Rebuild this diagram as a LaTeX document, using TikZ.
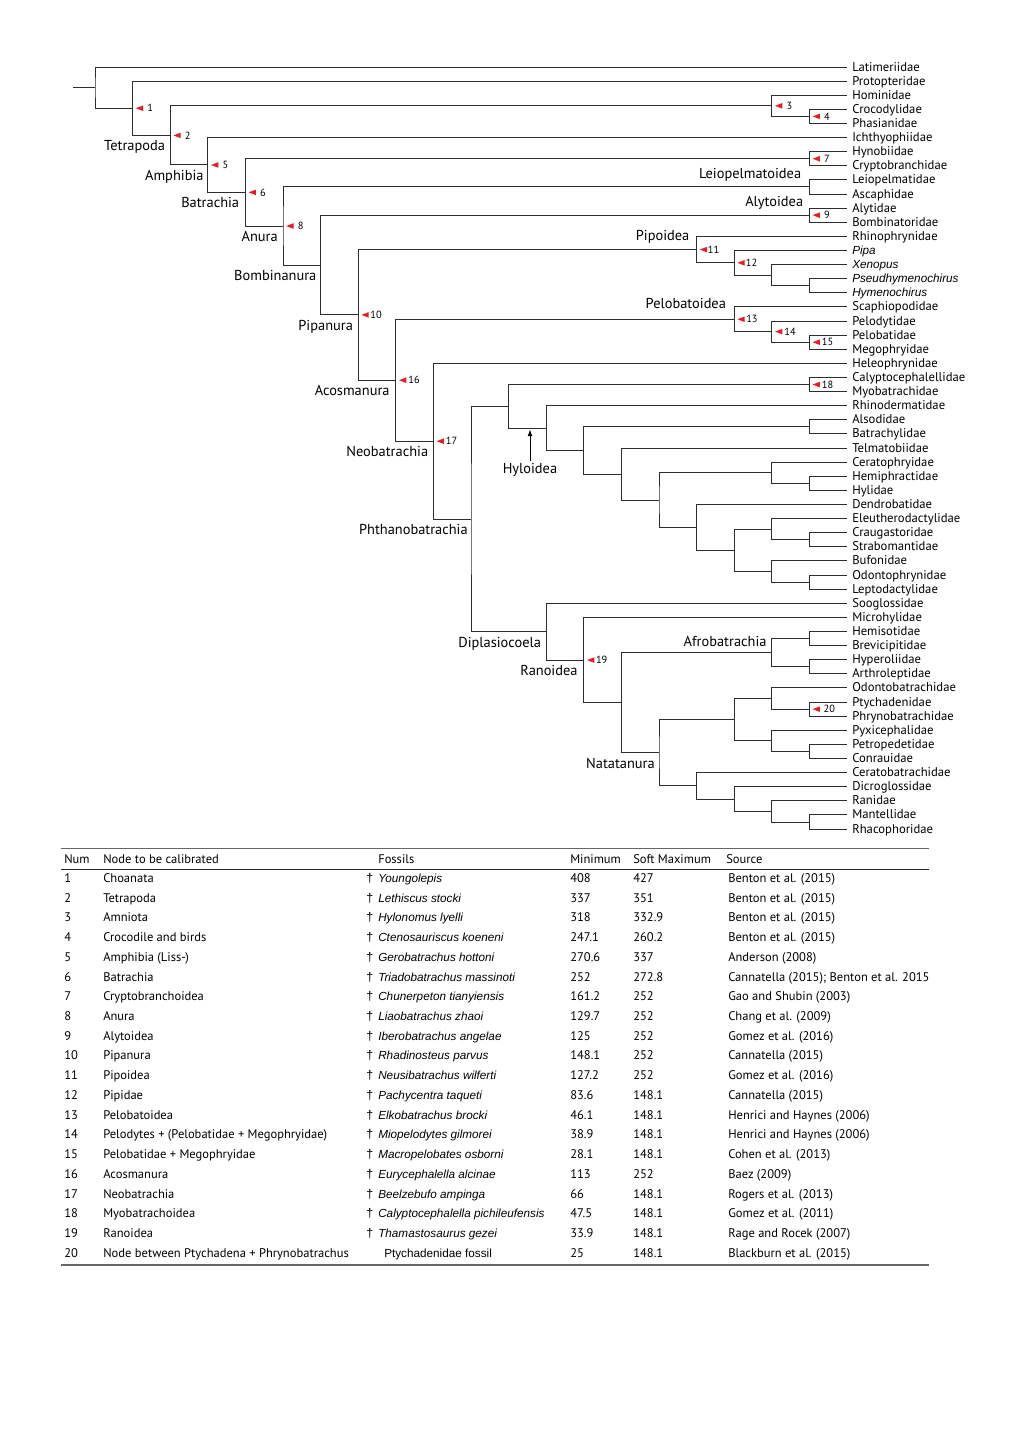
\documentclass[tikz,border=0pt]{standalone}
\usepackage{fontspec}
\setmainfont{PT Sans}
\newfontfamily\arialf{Liberation Sans}
\usetikzlibrary{calc,arrows.meta}
\definecolor{markred}{RGB}{232,28,36}
\definecolor{branchc}{RGB}{45,45,45}
\newcommand\tabfont{\fontsize{9.4}{10}\selectfont}
\newcommand\leaf[3]{%
  \coordinate (t#1) at (847,{67+14.113*(#1-1)});
  \node[#2] (lab#1) at ($(t#1)+(5,4)$) {#3};}
\newcommand\cladenode[4]{%
  \coordinate (tmp#1) at ($(#3)!0.5!(#4)$);
  \coordinate (#1) at (tmp#1 -| lev#2);
  \draw[branch] (#3) -| (#1) |- (#4);}
\newcommand\calmark[3]{%
  \fill[markred] ($(#1)+(3.3,0)$) -- ($(#1)+(10.5,-2.8)$) -- ($(#1)+(10.5,2.8)$) -- cycle;
  \node[numlab] (mk#2) at ($(#1)+(#3,0)$) {#2};}
\newcommand\tabrow[7]{%
  \coordinate (row#1) at (0,{878.3+19.74*(#1-1)});
  \node[tab] (tn#1) at ($(row#1)+(64,4)$) {#2};
  \node[tab] (tc#1) at ($(row#1)+(103,4)$) {#3};
  \node[tab,font=\tabfont\arialf] (td#1) at ($(row#1)+(366,4)$) {†};
  \node[fos] (tf#1) at ($(row#1)+(378,4)$) {#4};
  \node[tab] (tm#1) at ($(row#1)+(570,4)$) {#5};
  \node[tab] (tx#1) at ($(row#1)+(633,4)$) {#6};
  \node[tab] (ts#1) at ($(row#1)+(728,4)$) {#7};}
\begin{document}
\begin{tikzpicture}[x=0.75pt,y=-0.75pt,
  branch/.style={draw=branchc, line width=0.75pt},
  leaflab/.style={anchor=base west, inner sep=0pt, font=\fontsize{9.5}{10}\selectfont},
  itleaf/.style={anchor=base west, inner sep=0pt, font=\fontsize{8.8}{10}\selectfont\arialf\itshape},
  cladelab/.style={inner sep=0pt, text height=7.6pt, text depth=2.2pt, font=\fontsize{10.8}{12}\selectfont},
  belowlab/.style={cladelab, anchor=east},
  numlab/.style={anchor=west, inner sep=0pt, font=\fontsize{7.8}{8}\selectfont},
  tab/.style={anchor=base west, inner sep=0pt, font=\tabfont},
  fos/.style={anchor=base west, inner sep=0pt, font=\fontsize{8.8}{10}\selectfont\arialf\itshape},
  thickrule/.style={draw=black!60, line width=1.1pt},
  thinrule/.style={draw=black!85, line width=0.6pt}]
\useasboundingbox (0,0) rectangle (1020,1442);
\foreach \L in {0,...,20} {\coordinate (lev\L) at ({95+37.6*\L},0);}
% leaves
\leaf{1}{leaflab}{Latimeriidae}
\leaf{2}{leaflab}{Protopteridae}
\leaf{3}{leaflab}{Hominidae}
\leaf{4}{leaflab}{Crocodylidae}
\leaf{5}{leaflab}{Phasianidae}
\leaf{6}{leaflab}{Ichthyophiidae}
\leaf{7}{leaflab}{Hynobiidae}
\leaf{8}{leaflab}{Cryptobranchidae}
\leaf{9}{leaflab}{Leiopelmatidae}
\leaf{10}{leaflab}{Ascaphidae}
\leaf{11}{leaflab}{Alytidae}
\leaf{12}{leaflab}{Bombinatoridae}
\leaf{13}{leaflab}{Rhinophrynidae}
\leaf{14}{itleaf}{Pipa}
\leaf{15}{itleaf}{Xenopus}
\leaf{16}{itleaf}{Pseudhymenochirus}
\leaf{17}{itleaf}{Hymenochirus}
\leaf{18}{leaflab}{Scaphiopodidae}
\leaf{19}{leaflab}{Pelodytidae}
\leaf{20}{leaflab}{Pelobatidae}
\leaf{21}{leaflab}{Megophryidae}
\leaf{22}{leaflab}{Heleophrynidae}
\leaf{23}{leaflab}{Calyptocephalellidae}
\leaf{24}{leaflab}{Myobatrachidae}
\leaf{25}{leaflab}{Rhinodermatidae}
\leaf{26}{leaflab}{Alsodidae}
\leaf{27}{leaflab}{Batrachylidae}
\leaf{28}{leaflab}{Telmatobiidae}
\leaf{29}{leaflab}{Ceratophryidae}
\leaf{30}{leaflab}{Hemiphractidae}
\leaf{31}{leaflab}{Hylidae}
\leaf{32}{leaflab}{Dendrobatidae}
\leaf{33}{leaflab}{Eleutherodactylidae}
\leaf{34}{leaflab}{Craugastoridae}
\leaf{35}{leaflab}{Strabomantidae}
\leaf{36}{leaflab}{Bufonidae}
\leaf{37}{leaflab}{Odontophrynidae}
\leaf{38}{leaflab}{Leptodactylidae}
\leaf{39}{leaflab}{Sooglossidae}
\leaf{40}{leaflab}{Microhylidae}
\leaf{41}{leaflab}{Hemisotidae}
\leaf{42}{leaflab}{Brevicipitidae}
\leaf{43}{leaflab}{Hyperoliidae}
\leaf{44}{leaflab}{Arthroleptidae}
\leaf{45}{leaflab}{Odontobatrachidae}
\leaf{46}{leaflab}{Ptychadenidae}
\leaf{47}{leaflab}{Phrynobatrachidae}
\leaf{48}{leaflab}{Pyxicephalidae}
\leaf{49}{leaflab}{Petropedetidae}
\leaf{50}{leaflab}{Conrauidae}
\leaf{51}{leaflab}{Ceratobatrachidae}
\leaf{52}{leaflab}{Dicroglossidae}
\leaf{53}{leaflab}{Ranidae}
\leaf{54}{leaflab}{Mantellidae}
\leaf{55}{leaflab}{Rhacophoridae}
% internal nodes
\cladenode{n4}{19}{t4}{t5}
\cladenode{n3}{18}{t3}{n4}
\cladenode{n7}{19}{t7}{t8}
\cladenode{nLeio}{19}{t9}{t10}
\cladenode{n9}{19}{t11}{t12}
\cladenode{nHym}{19}{t16}{t17}
\cladenode{nXen}{18}{t15}{nHym}
\cladenode{n12}{17}{t14}{nXen}
\cladenode{n11}{16}{t13}{n12}
\cladenode{n15}{19}{t20}{t21}
\cladenode{n14}{18}{t19}{n15}
\cladenode{n13}{17}{t18}{n14}
\cladenode{n18}{19}{t23}{t24}
\cladenode{nAls}{19}{t26}{t27}
\cladenode{nHyl}{19}{t30}{t31}
\cladenode{nCer}{18}{t29}{nHyl}
\cladenode{nCra}{19}{t34}{t35}
\cladenode{nEle}{18}{t33}{nCra}
\cladenode{nOdo}{19}{t37}{t38}
\cladenode{nBuf}{18}{t36}{nOdo}
\cladenode{nAa}{17}{nEle}{nBuf}
\cladenode{nAb}{16}{t32}{nAa}
\cladenode{nAc}{15}{nCer}{nAb}
\cladenode{nAd}{14}{t28}{nAc}
\cladenode{nAe}{13}{nAls}{nAd}
\cladenode{nHyloid}{12}{t25}{nAe}
\cladenode{nAf}{11}{n18}{nHyloid}
\cladenode{nHem}{19}{t41}{t42}
\cladenode{nHyp}{19}{t43}{t44}
\cladenode{nAfro}{18}{nHem}{nHyp}
\cladenode{n20}{19}{t46}{t47}
\cladenode{nOdb}{18}{t45}{n20}
\cladenode{nPet}{19}{t49}{t50}
\cladenode{nPyx}{18}{t48}{nPet}
\cladenode{nBa}{17}{nOdb}{nPyx}
\cladenode{nMan}{19}{t54}{t55}
\cladenode{nRan}{18}{t53}{nMan}
\cladenode{nDic}{17}{t52}{nRan}
\cladenode{nBb}{16}{t51}{nDic}
\cladenode{nNat}{15}{nBa}{nBb}
\cladenode{nBc}{14}{nAfro}{nNat}
\cladenode{n19}{13}{t40}{nBc}
\cladenode{nDip}{12}{t39}{n19}
\cladenode{nPhth}{10}{nAf}{nDip}
\cladenode{n17}{9}{t22}{nPhth}
\cladenode{n16}{8}{n13}{n17}
\cladenode{n10}{7}{n11}{n16}
\cladenode{nBomb}{6}{n9}{n10}
\cladenode{n8}{5}{nLeio}{nBomb}
\cladenode{n6}{4}{n7}{n8}
\cladenode{n5}{3}{t6}{n6}
\cladenode{n2}{2}{n3}{n5}
\cladenode{n1}{1}{t2}{n2}
\cladenode{n0}{0}{t1}{n1}
\coordinate (stub) at ($(n0)+(-22,0)$);
\draw[branch] (stub) -- (n0);
% calibration markers
\calmark{n1}{1}{14.5}
\calmark{n2}{2}{14.5}
\calmark{n3}{3}{14.5}
\calmark{n4}{4}{14.5}
\calmark{n5}{5}{14.5}
\calmark{n6}{6}{14.5}
\calmark{n7}{7}{14.5}
\calmark{n8}{8}{14.5}
\calmark{n9}{9}{14.5}
\calmark{n10}{10}{12}
\calmark{n11}{11}{11}
\calmark{n12}{12}{11.5}
\calmark{n13}{13}{11.8}
\calmark{n14}{14}{12.3}
\calmark{n15}{15}{12.3}
\calmark{n16}{16}{12.3}
\calmark{n17}{17}{12.3}
\calmark{n18}{18}{12.3}
\calmark{n19}{19}{12}
\calmark{n20}{20}{14}
% clade labels below branches
\node[belowlab] (cTetra) at ($(n2)+(-5,11.8)$) {Tetrapoda};
\node[belowlab] (cAmph) at ($(n5)+(-4,11.8)$) {Amphibia};
\node[belowlab] (cBatr) at ($(n6)+(-6,11.8)$) {Batrachia};
\node[belowlab] (cAnura) at ($(n8)+(-5,11.8)$) {Anura};
\node[belowlab] (cBomb) at ($(nBomb)+(-4,11.8)$) {Bombinanura};
\node[belowlab] (cPipan) at ($(n10)+(-5,11.8)$) {Pipanura};
\node[belowlab] (cAcos) at ($(n16)+(-6,11.8)$) {Acosmanura};
\node[belowlab] (cNeob) at ($(n17)+(-5,11.8)$) {Neobatrachia};
\node[belowlab] (cPhth) at ($(nPhth)+(-3,11.8)$) {Phthanobatrachia};
\node[belowlab] (cDipl) at ($(nDip)+(-5,11.8)$) {Diplasiocoela};
\node[belowlab] (cRano) at ($(n19)+(-6,11.8)$) {Ranoidea};
\node[belowlab] (cNata) at ($(nNat)+(-4,11.8)$) {Natatanura};
% clade labels above branches
\node[belowlab] (cLeio) at ($(nLeio)+(-8,-12)$) {Leiopelmatoidea};
\node[belowlab] (cAlyt) at ($(n9)+(-6,-12)$) {Alytoidea};
\node[belowlab] (cPipo) at ($(n11)+(-7,-13)$) {Pipoidea};
\node[belowlab] (cPelo) at ($(n13)+(-8,-14)$) {Pelobatoidea};
\node[belowlab] (cAfro) at ($(nAfro)+(-5,-10)$) {Afrobatrachia};
% Hyloidea
\node[cladelab] (cHyl) at (530,470) {Hyloidea};
\coordinate (hyltip) at (530,429.5);
\draw[-{Latex[length=5pt,width=3.6pt]}, black, line width=0.6pt, shorten <=1.5pt] (cHyl.north) -- (hyltip);
% table
\coordinate (tl) at (61,848.5);
\coordinate (tr) at (929,848.5);
\draw[thickrule] (tl) -- (tr);
\coordinate (hl) at (61,869);
\coordinate (hr) at (929,869);
\draw[thinrule] (hl) -- (hr);
\coordinate (bl) at (61,1265);
\coordinate (br) at (929,1265);
\draw[thickrule] (bl) -- (br);
\node[tab] (hNum) at (64,863) {Num};
\node[tab] (hNode) at (103,863) {Node to be calibrated};
\node[tab] (hFos) at (378,863) {Fossils};
\node[tab] (hMin) at (570,863) {Minimum};
\node[tab] (hMax) at (633,863) {Soft Maximum};
\node[tab] (hSrc) at (726,863) {Source};
\tabrow{1}{1}{Choanata}{Youngolepis}{408}{427}{Benton et al. (2015)}
\tabrow{2}{2}{Tetrapoda}{Lethiscus stocki}{337}{351}{Benton et al. (2015)}
\tabrow{3}{3}{Amniota}{Hylonomus lyelli}{318}{332.9}{Benton et al. (2015)}
\tabrow{4}{4}{Crocodile and birds}{Ctenosauriscus koeneni}{247.1}{260.2}{Benton et al. (2015)}
\tabrow{5}{5}{Amphibia (Liss-)}{Gerobatrachus hottoni}{270.6}{337}{Anderson (2008)}
\tabrow{6}{6}{Batrachia}{Triadobatrachus massinoti}{252}{272.8}{Cannatella (2015); Benton et al. 2015}
\tabrow{7}{7}{Cryptobranchoidea}{Chunerpeton tianyiensis}{161.2}{252}{Gao and Shubin (2003)}
\tabrow{8}{8}{Anura}{Liaobatrachus zhaoi}{129.7}{252}{Chang et al. (2009)}
\tabrow{9}{9}{Alytoidea}{Iberobatrachus angelae}{125}{252}{Gomez et al. (2016)}
\tabrow{10}{10}{Pipanura}{Rhadinosteus parvus}{148.1}{252}{Cannatella (2015)}
\tabrow{11}{11}{Pipoidea}{Neusibatrachus wilferti}{127.2}{252}{Gomez et al. (2016)}
\tabrow{12}{12}{Pipidae}{Pachycentra taqueti}{83.6}{148.1}{Cannatella (2015)}
\tabrow{13}{13}{Pelobatoidea}{Elkobatrachus brocki}{46.1}{148.1}{Henrici and Haynes (2006)}
\tabrow{14}{14}{Pelodytes + (Pelobatidae + Megophryidae)}{Miopelodytes gilmorei}{38.9}{148.1}{Henrici and Haynes (2006)}
\tabrow{15}{15}{Pelobatidae + Megophryidae}{Macropelobates osborni}{28.1}{148.1}{Cohen et al. (2013)}
\tabrow{16}{16}{Acosmanura}{Eurycephalella alcinae}{113}{252}{Baez (2009)}
\tabrow{17}{17}{Neobatrachia}{Beelzebufo ampinga}{66}{148.1}{Rogers et al. (2013)}
\tabrow{18}{18}{Myobatrachoidea}{Calyptocephalella pichileufensis}{47.5}{148.1}{Gomez et al. (2011)}
\tabrow{19}{19}{Ranoidea}{Thamastosaurus gezei}{33.9}{148.1}{Rage and Rocek (2007)}
\coordinate (row20) at (0,{878.3+19.74*19});
\node[tab] (tn20) at ($(row20)+(64,4)$) {20};
\node[tab] (tc20) at ($(row20)+(103,4)$) {Node between Ptychadena + Phrynobatrachus};
\node[tab,font=\fontsize{8.8}{10}\selectfont\arialf] (tf20) at ($(row20)+(384,4)$) {Ptychadenidae fossil};
\node[tab] (tm20) at ($(row20)+(570,4)$) {25};
\node[tab] (tx20) at ($(row20)+(633,4)$) {148.1};
\node[tab] (ts20) at ($(row20)+(728,4)$) {Blackburn et al. (2015)};
\end{tikzpicture}
\end{document}
